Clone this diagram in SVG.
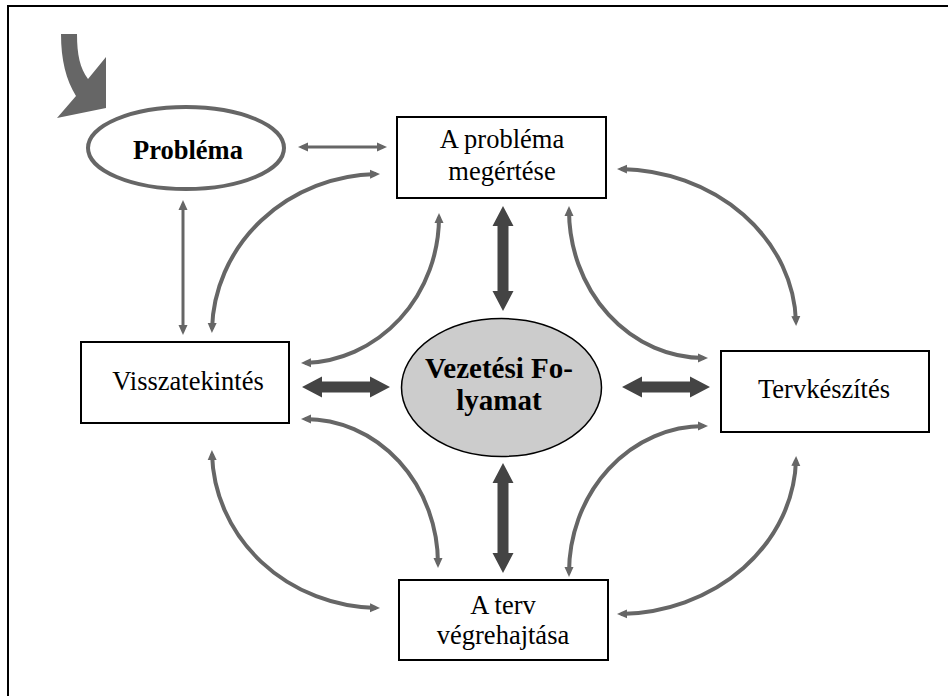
<svg xmlns="http://www.w3.org/2000/svg" width="948" height="696" viewBox="0 0 948 696">
<style>
.box{fill:#fff;stroke:#000;stroke-width:2}
.t{font-family:"Liberation Serif","Times New Roman",serif;font-size:26.5px;fill:#000;text-anchor:middle}
.b{font-weight:bold}
.big{font-size:29px}
.c{fill:none;stroke:#666;stroke-width:4;marker-start:url(#ah);marker-end:url(#ah)}
.s{fill:none;stroke:#666;stroke-width:3;marker-start:url(#ah);marker-end:url(#ah)}
.thick{fill:#444}
</style>
<defs>
<marker id="ah" markerUnits="userSpaceOnUse" markerWidth="10" markerHeight="10" refX="6" refY="5" orient="auto-start-reverse" viewBox="0 0 10 10">
<path d="M0,0.5 L10,5 L0,9.5 z" fill="#666"/>
</marker>
</defs>
<rect width="948" height="696" fill="#fff"/>
<path d="M8,700 V6 H950" fill="none" stroke="#000" stroke-width="2"/>

<g id="start-arrow">
<path d="M61,34 L77,34 C77,55 80,68 88,79 L106,57 L106,108 L57,118 L76,96 C66,80 61,60 61,34 Z" fill="#666"/>
</g>

<g id="connectors">
<path class="c" d="M212,329 A168,159 0 0 1 376,174"/>
<path class="c" d="M621,169 A179,157 0 0 1 796,322"/>
<path class="c" d="M796,460 A179,158 0 0 1 621,614"/>
<path class="c" d="M376,608 A168,158 0 0 1 212,454"/>
<path class="c" d="M439,217 A138,146 0 0 1 305,363"/>
<path class="c" d="M569,210 A135,148 0 0 0 704,358"/>
<path class="c" d="M704,426 A135,147 0 0 0 569,573"/>
<path class="c" d="M305,419 A133,145 0 0 1 438,564"/>
<line class="s" x1="302" y1="147" x2="383" y2="147"/>
<line class="s" x1="183" y1="204" x2="183" y2="331"/>
<polygon class="thick" points="302,387 322,376.5 322,381.5 370,381.5 370,376.5 390,387 370,397.5 370,392.5 322,392.5 322,397.5"/>
<polygon class="thick" points="622,387 642,376.5 642,381.5 690,381.5 690,376.5 710,387 690,397.5 690,392.5 642,392.5 642,397.5"/>
<polygon class="thick" points="503,206 513.5,226 508.5,226 508.5,291 513.5,291 503,311 492.5,291 497.5,291 497.5,226 492.5,226"/>
<polygon class="thick" points="503,463 513.5,483 508.5,483 508.5,553 513.5,553 503,573 492.5,553 497.5,553 497.5,483 492.5,483"/>
</g>

<g id="problema">
<ellipse cx="186" cy="148" rx="98" ry="41" fill="#fff" stroke="#666" stroke-width="4"/>
<text class="t b" x="188" y="159">Probléma</text>
</g>

<g id="megertes">
<rect class="box" x="397" y="117" width="209" height="81"/>
<text class="t" x="502" y="148">A probléma</text>
<text class="t" x="502" y="180">megértése</text>
</g>

<g id="visszatekintes">
<rect class="box" x="81" y="342" width="208" height="81"/>
<text class="t" x="188" y="390">Visszatekintés</text>
</g>

<g id="tervkeszites">
<rect class="box" x="721" y="351" width="208" height="81"/>
<text class="t" x="824" y="398">Tervkészítés</text>
</g>

<g id="vegrehajtas">
<rect class="box" x="399" y="580" width="209" height="80"/>
<text class="t" x="503" y="614">A terv</text>
<text class="t" x="503" y="644">végrehajtása</text>
</g>

<g id="vezetesi">
<ellipse cx="501.5" cy="387.5" rx="100" ry="69" fill="#ccc" stroke="#000" stroke-width="1.5"/>
<text class="t b big" x="499" y="378">Vezetési Fo-</text>
<text class="t b big" x="499" y="410">lyamat</text>
</g>
</svg>
